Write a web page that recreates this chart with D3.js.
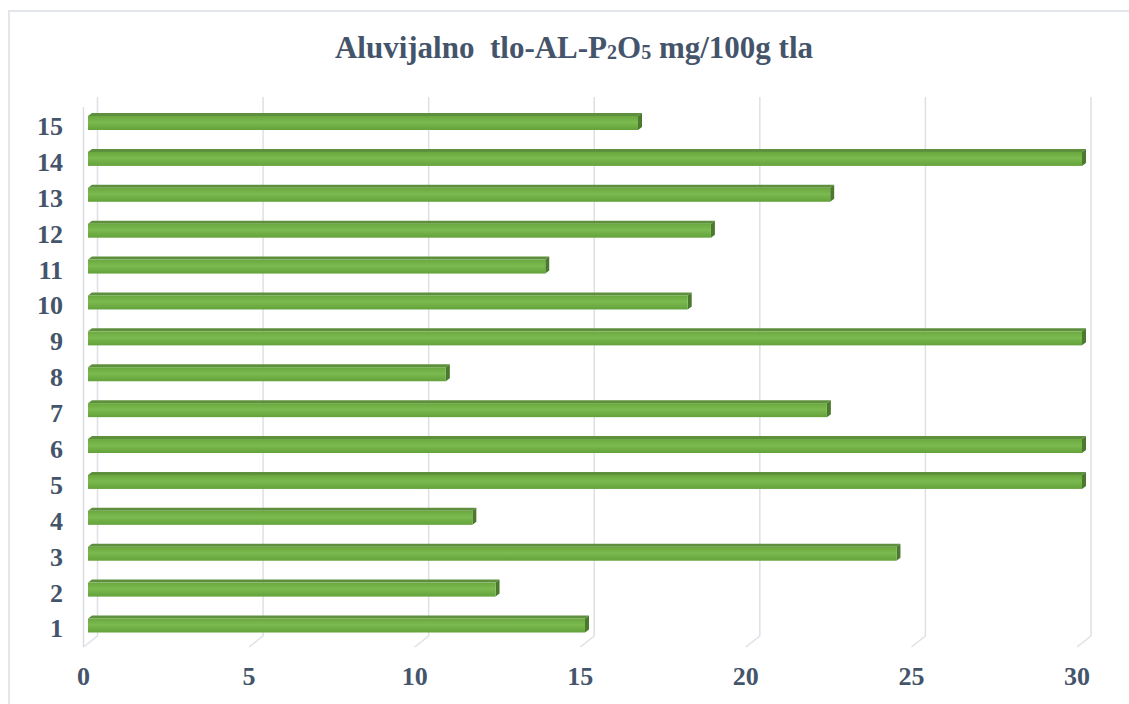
<!DOCTYPE html>
<html>
<head>
<meta charset="utf-8">
<script src="https://cdn.jsdelivr.net/npm/d3@7"></script>
<style>
  body { margin: 0; background: #fff; }
  svg text { font-family: "Liberation Serif", "Times New Roman", serif; font-weight: bold; fill: #44546a; }
</style>
</head>
<body>
<svg id="chart"></svg>
<script>
// categories (bottom to top) and values
var categories = ["1","2","3","4","5","6","7","8","9","10","11","12","13","14","15"];
var values = [15.0, 12.3, 24.4, 11.6, 30, 30, 22.3, 10.8, 30, 18.1, 13.8, 18.8, 22.4, 30, 16.6];
var xTicks = [0, 5, 10, 15, 20, 25, 30];

var W = 1129, H = 704;
var depthX = 14, depthY = 11;   // floor perspective offset
var barDX = 4, barDY = 3;       // bar 3D offset
var barH = 14;

var svg = d3.select("#chart").attr("width", W).attr("height", H);

// gradient for bar front face
var defs = svg.append("defs");
var grad = defs.append("linearGradient").attr("id", "barGrad")
    .attr("x1", 0).attr("y1", 0).attr("x2", 0).attr("y2", 1);
grad.append("stop").attr("offset", "0%").attr("stop-color", "#6aa83f");
grad.append("stop").attr("offset", "45%").attr("stop-color", "#7bba4f");
grad.append("stop").attr("offset", "100%").attr("stop-color", "#63a13a");

// chart area border
svg.append("rect")
    .attr("x", 9).attr("y", 11)
    .attr("width", 1300).attr("height", 900)
    .attr("fill", "none")
    .attr("stroke", "#e3e6ea")
    .attr("stroke-width", 2);

// scales
var xBack = d3.scaleLinear().domain([0, 30]).range([97.5, 1091]);
var xFront = d3.scaleLinear().domain([0, 30]).range([83.5, 1077]);
var xBar = d3.scaleLinear().domain([0, 30]).range([88, 1082]);
var y = d3.scalePoint().domain(categories.slice().reverse()).range([123, 625.5]);

var backTop = 97, backBottom = 636;

// left wall front edge
svg.append("line")
    .attr("x1", xFront(0)).attr("x2", xFront(0))
    .attr("y1", backTop + depthY - 1).attr("y2", backBottom + depthY)
    .attr("stroke", "#d9dde3").attr("stroke-width", 1.5);

// gridlines on back wall and floor
svg.selectAll(".grid")
    .data(xTicks)
    .enter().append("polyline")
    .attr("class", "grid")
    .attr("points", function(d) {
        return [[xBack(d), backTop], [xBack(d), backBottom], [xFront(d), backBottom + depthY]].join(" ");
    })
    .attr("fill", "none")
    .attr("stroke", "#dde0e6")
    .attr("stroke-width", 1.5);

// bars
var bars = svg.selectAll(".bar")
    .data(categories.map(function(c, i) { return { cat: c, v: values[i] }; }))
    .enter().append("g")
    .attr("class", "bar");

// top face
bars.append("polygon")
    .attr("points", function(d) {
        var x0 = xBar(0), x1 = xBar(d.v), t = y(d.cat) - barH / 2;
        return [[x0, t], [x0 + barDX, t - barDY], [x1 + barDX, t - barDY], [x1, t]].join(" ");
    })
    .attr("fill", "#5d8f3c");

// side face
bars.append("polygon")
    .attr("points", function(d) {
        var x1 = xBar(d.v), t = y(d.cat) - barH / 2;
        return [[x1, t], [x1 + barDX, t - barDY], [x1 + barDX, t + barH - barDY], [x1, t + barH]].join(" ");
    })
    .attr("fill", "#4b7a2e");

// front face
bars.append("rect")
    .attr("x", xBar(0))
    .attr("y", function(d) { return y(d.cat) - barH / 2; })
    .attr("width", function(d) { return xBar(d.v) - xBar(0); })
    .attr("height", barH)
    .attr("fill", "url(#barGrad)");

// y labels
svg.selectAll(".ylab")
    .data(categories)
    .enter().append("text")
    .attr("class", "ylab")
    .attr("x", 63)
    .attr("y", function(d) { return y(d); })
    .attr("dy", "0.46em")
    .attr("text-anchor", "end")
    .style("font-size", "26px")
    .text(function(d) { return d; });

// x labels
svg.selectAll(".xlab")
    .data(xTicks)
    .enter().append("text")
    .attr("class", "xlab")
    .attr("x", function(d) { return xFront(d); })
    .attr("y", 685)
    .attr("text-anchor", "middle")
    .style("font-size", "26px")
    .text(function(d) { return d; });

// title with small subscripts
var title = svg.append("text")
    .attr("x", 574)
    .attr("y", 58)
    .attr("text-anchor", "middle")
    .style("font-size", "31px");
title.append("tspan").text("Aluvijalno\u00a0\u00a0tlo-AL-P");
title.append("tspan").style("font-size", "20px").attr("dy", 1).text("2");
title.append("tspan").attr("dy", -1).text("O");
title.append("tspan").style("font-size", "20px").attr("dy", 1).text("5");
title.append("tspan").attr("dy", -1).text(" mg/100g tla");
</script>
</body>
</html>
